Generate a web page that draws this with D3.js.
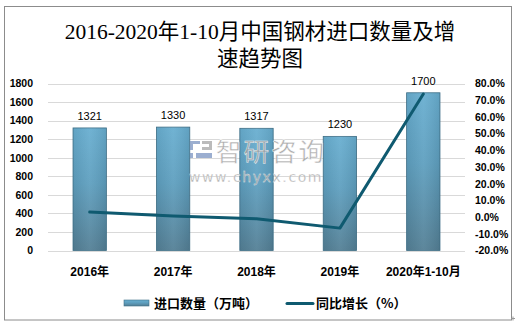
<!DOCTYPE html>
<html>
<head>
<meta charset="utf-8">
<script src="https://cdn.jsdelivr.net/npm/d3@7"></script>
<style>
  html, body { margin: 0; padding: 0; background: #fff; }
  svg { display: block; }
</style>
</head>
<body>
<script>
// Chart data
const categories = ["2016年", "2017年", "2018年", "2019年", "2020年1-10月"];
const importVolume = [1321, 1330, 1317, 1230, 1700];   // 进口数量（万吨）
const growthRate = [3.0, 0.7, -1.0, -6.6, 73.7];       // 同比增长（%）
const leftTicks = [0, 200, 400, 600, 800, 1000, 1200, 1400, 1600, 1800];
const rightTicks = [-20, -10, 0, 10, 20, 30, 40, 50, 60, 70, 80];
const titleLines = ["2016-2020年1-10月中国钢材进口数量及增", "速趋势图"];
const legendLabels = ["进口数量（万吨）", "同比增长（%）"];

const W = 516, H = 325;
const plot = { left: 48, right: 465, top: 83.5, bottom: 250.5 };

const svg = d3.select("body").append("svg")
  .attr("width", W).attr("height", H);

// Outer frame
svg.append("rect")
  .attr("x", 4.5).attr("y", 6.5).attr("width", 507).attr("height", 313.5)
  .attr("fill", "#fff").attr("stroke", "#8c8c8c").attr("stroke-width", 1);
svg.append("path").attr("d", "M511,318.5h4M513,316.5v4")
  .attr("stroke", "#999").attr("stroke-width", 1);

// Gradients
const defs = svg.append("defs");
const grad = defs.append("linearGradient").attr("id", "barGrad")
  .attr("x1", 0).attr("y1", 0).attr("x2", 0).attr("y2", 1);
grad.append("stop").attr("offset", "0%").attr("stop-color", "#68aed0");
grad.append("stop").attr("offset", "45%").attr("stop-color", "#5e9fbf");
grad.append("stop").attr("offset", "100%").attr("stop-color", "#537f95");
const gradH = defs.append("linearGradient").attr("id", "barGradH")
  .attr("x1", 0).attr("y1", 0).attr("x2", 1).attr("y2", 0);
gradH.append("stop").attr("offset", "0%").attr("stop-color", "#000").attr("stop-opacity", 0.06);
gradH.append("stop").attr("offset", "50%").attr("stop-color", "#fff").attr("stop-opacity", 0.06);
gradH.append("stop").attr("offset", "100%").attr("stop-color", "#000").attr("stop-opacity", 0.08);

// Title
const title = svg.append("text")
  .attr("text-anchor", "middle")
  .attr("font-family", "'Liberation Serif', 'Noto Sans CJK SC', serif")
  .attr("font-size", 21.5)
  .attr("fill", "#000");
titleLines.forEach((t, i) => {
  title.append("tspan").attr("x", 260).attr("y", 38.5 + i * 27).text(t);
});

// Scales
const x = d3.scaleBand().domain(categories)
  .range([plot.left, plot.right]).paddingInner(0.6).paddingOuter(0.3);
const yL = d3.scaleLinear().domain([0, 1800]).range([plot.bottom, plot.top]);
const yR = d3.scaleLinear().domain([-20, 80]).range([plot.bottom, plot.top]);

// Gridlines
svg.append("g").selectAll("line").data(leftTicks).join("line")
  .attr("x1", plot.left).attr("x2", plot.right)
  .attr("y1", d => Math.round(yL(d)) + 0.5).attr("y2", d => Math.round(yL(d)) + 0.5)
  .attr("stroke", "#d9d9d9").attr("stroke-width", 1);

// Left axis
const axisFont = "'Liberation Sans', Arial, sans-serif";
const gL = svg.append("g").attr("transform", `translate(${plot.left},0)`)
  .call(d3.axisLeft(yL).tickValues(leftTicks).tickSize(0).tickPadding(15).tickFormat(d3.format("d")));
gL.select(".domain").remove();
gL.selectAll("text").attr("font-family", axisFont).attr("font-size", 10.5)
  .attr("font-weight", "bold").attr("fill", "#000");

// Right axis
const gR = svg.append("g").attr("transform", `translate(${plot.right},0)`)
  .call(d3.axisRight(yR).tickValues(rightTicks).tickSize(0).tickPadding(10)
    .tickFormat(d => d.toFixed(1) + "%"));
gR.select(".domain").remove();
gR.selectAll("text").attr("font-family", axisFont).attr("font-size", 10.5)
  .attr("font-weight", "bold").attr("fill", "#000");

// Category axis
const gX = svg.append("g").attr("transform", `translate(0,${plot.bottom})`)
  .call(d3.axisBottom(x).tickSize(0).tickPadding(17));
gX.select(".domain").remove();
gX.selectAll("text").attr("font-family", "'Liberation Sans', 'Noto Sans CJK SC', sans-serif")
  .attr("font-size", 12).attr("font-weight", "bold").attr("fill", "#000");

// Bars
const bars = svg.append("g");
bars.selectAll("rect.bar").data(importVolume).join("rect")
  .attr("class", "bar")
  .attr("x", (d, i) => x(categories[i]))
  .attr("width", x.bandwidth())
  .attr("y", d => yL(d))
  .attr("height", d => plot.bottom - yL(d))
  .attr("fill", "url(#barGrad)")
  .attr("stroke", "#3f7088").attr("stroke-width", 0.8);
bars.selectAll("rect.shade").data(importVolume).join("rect")
  .attr("class", "shade")
  .attr("x", (d, i) => x(categories[i]))
  .attr("width", x.bandwidth())
  .attr("y", d => yL(d))
  .attr("height", d => plot.bottom - yL(d))
  .attr("fill", "url(#barGradH)");

// Bar value labels
svg.append("g").selectAll("text").data(importVolume).join("text")
  .attr("x", (d, i) => x(categories[i]) + x.bandwidth() / 2)
  .attr("y", d => yL(d) - 8)
  .attr("text-anchor", "middle")
  .attr("font-family", axisFont).attr("font-size", 11)
  .attr("fill", "#000").text(d => d);

// Watermark (sits over the bars, semi-transparent)
const wm = svg.append("g").attr("opacity", 0.85);
const logo = wm.append("g").attr("transform", "translate(190,141)");
logo.append("path").attr("d", "M0,0h10v3h-7v6h-3z").attr("fill", "#8aa0c8");
logo.append("path").attr("d", "M0,12h3v5h-3z").attr("fill", "#8aa0c8");
logo.append("path").attr("d", "M12,0h10v9h-10v-3h7v-3h-7z").attr("fill", "#b0b0b0");
logo.append("path").attr("d", "M6,12h16v5h-16z").attr("fill", "#8aa0c8");
wm.append("text").attr("x", 216).attr("y", 161)
  .attr("font-family", "'Noto Sans CJK SC', sans-serif").attr("font-size", 25.5)
  .attr("fill", "#a0a0a0").attr("stroke", "#fff").attr("stroke-width", 0.5)
  .attr("letter-spacing", 2).text("智研咨询");
wm.append("text").attr("x", 189).attr("y", 182)
  .attr("font-family", "'DejaVu Sans', sans-serif").attr("font-size", 14)
  .attr("fill", "#a0a0a0").attr("stroke", "#fff").attr("stroke-width", 0.3)
  .attr("letter-spacing", 1.6).text("www.chyxx.com");

// Growth line
const line = d3.line()
  .x((d, i) => x(categories[i]) + x.bandwidth() / 2)
  .y(d => yR(d));
svg.append("path").datum(growthRate)
  .attr("d", line)
  .attr("fill", "none").attr("stroke", "#0f5a70")
  .attr("stroke-width", 3).attr("stroke-linejoin", "round").attr("stroke-linecap", "round");

// Legend
const lg = svg.append("g");
lg.append("rect").attr("x", 124).attr("y", 300).attr("width", 25).attr("height", 6)
  .attr("fill", "url(#barGrad)").attr("stroke", "#3f7088").attr("stroke-width", 0.6);
lg.append("text").attr("x", 154).attr("y", 307.5)
  .attr("font-family", "'Noto Sans CJK SC', sans-serif").attr("font-size", 13)
  .attr("font-weight", "bold").attr("fill", "#000").text(legendLabels[0]);
lg.append("line").attr("x1", 287).attr("x2", 313).attr("y1", 303.5).attr("y2", 303.5)
  .attr("stroke", "#0f5a70").attr("stroke-width", 3).attr("stroke-linecap", "round");
lg.append("text").attr("x", 316).attr("y", 307.5)
  .attr("font-family", "'Noto Sans CJK SC', sans-serif").attr("font-size", 13)
  .attr("font-weight", "bold").attr("fill", "#000").text(legendLabels[1]);
</script>
</body>
</html>
